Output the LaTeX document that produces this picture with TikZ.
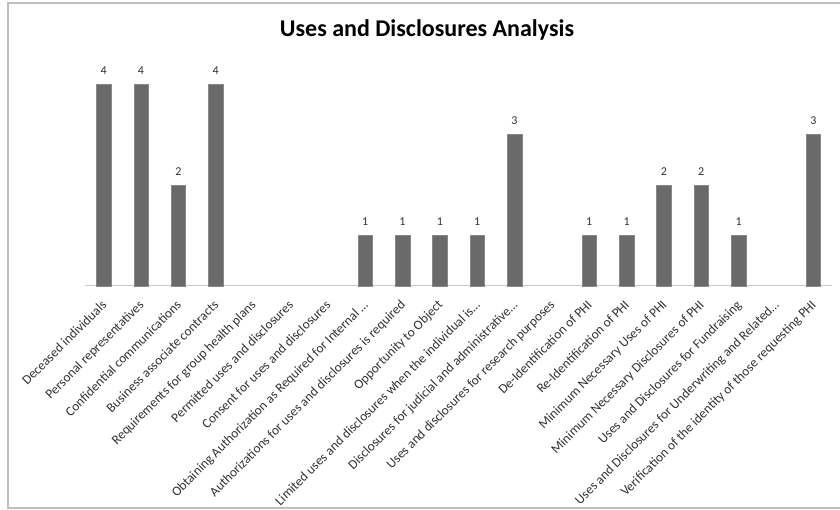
\documentclass[tikz,border=0pt]{standalone}
\usepackage{fontspec}
\setmainfont{Carlito}
\definecolor{barfill}{RGB}{106,106,106}
\definecolor{framec}{RGB}{190,190,190}
\definecolor{axisc}{RGB}{200,200,200}
\definecolor{txt}{RGB}{50,50,50}
\begin{document}
\begin{tikzpicture}[x=1pt,y=-1pt,
  charttitle/.style={font=\fontsize{24}{28}\selectfont\bfseries, text=black, inner sep=0pt, anchor=base},
  barbox/.style={fill=barfill, draw=barfill!80!white, line width=0.4pt, minimum width=14.5pt, inner sep=0pt, anchor=south},
  vallab/.style={font=\fontsize{12}{14}\selectfont, text=txt, inner sep=0pt, anchor=base},
  axlab/.style={font=\fontsize{13.3}{15}\selectfont, text=txt, inner sep=0pt, anchor=north east, rotate=45},
  frameline/.style={draw=framec, line width=1.5pt},
  axisline/.style={draw=axisc, line width=1pt}]
\useasboundingbox (0,0) rectangle (840,510);
\draw[frameline] (8,3) rectangle (850,508);
\node[charttitle] (title) at (427,37) {Uses and Disclosures Analysis};
\coordinate (axL) at (85,286);
\coordinate (axR) at (832,286);
\draw[axisline] (axL) -- (axR);
\foreach \i/\v/\t in {
  1/4/Deceased individuals,
  2/4/Personal representatives,
  3/2/Confidential communications,
  4/4/Business associate contracts,
  5/0/Requirements for group health plans,
  6/0/Permitted uses and disclosures,
  7/0/Consent for uses and disclosures,
  8/1/Obtaining Authorization as Required for Internal …,
  9/1/Authorizations for uses and disclosures is required,
  10/1/Opportunity to Object,
  11/1/Limited uses and disclosures when the individual is…,
  12/3/Disclosures for judicial and administrative…,
  13/0/Uses and disclosures for research purposes,
  14/1/De-Identification of PHI,
  15/1/Re-Identification of PHI,
  16/2/Minimum Necessary Uses of PHI,
  17/2/Minimum Necessary Disclosures of PHI,
  18/1/Uses and Disclosures for Fundraising,
  19/0/Uses and Disclosures for Underwriting and Related…,
  20/3/Verification of the identity of those requesting PHI} {
  \pgfmathsetmacro\cx{85+(\i-0.5)*37.35}
  \pgfmathsetmacro\tp{286-50.4*\v}
  \pgfmathsetmacro\bh{50.4*\v}
  \ifnum\v>0
    \node[barbox, minimum height=\bh pt] (bar\i) at (\cx,286) {};
    \node[vallab] (val\i) at (\cx,\tp-10) {\v};
  \fi
  \node[axlab] (lab\i) at (\cx-3,299) {\t};
}
\end{tikzpicture}
\end{document}
